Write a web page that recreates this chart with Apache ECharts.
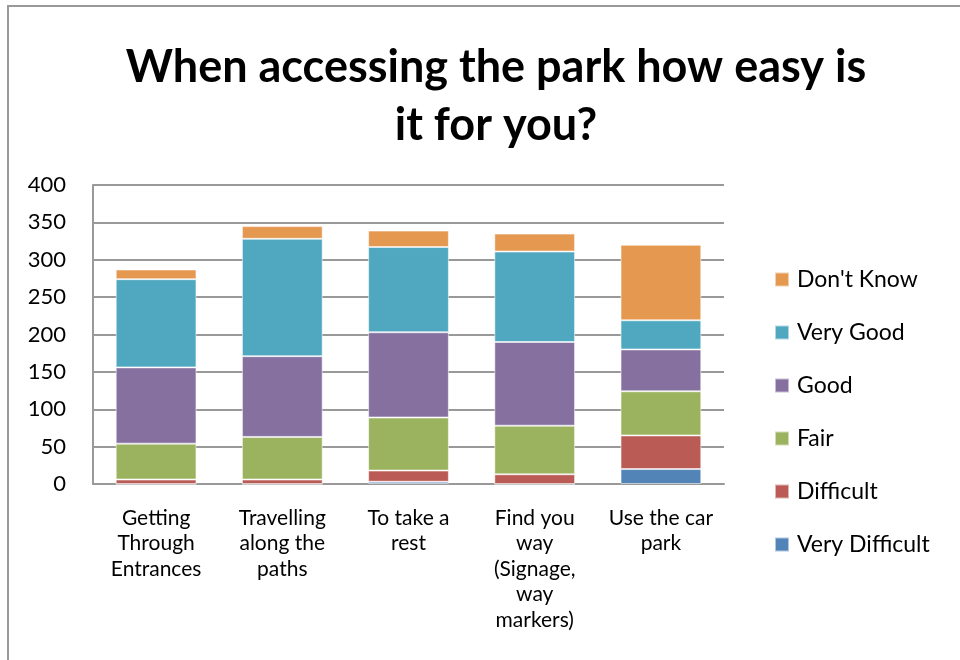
<!DOCTYPE html>
<html>
<head>
<meta charset="utf-8">
<script src="https://cdn.jsdelivr.net/npm/echarts@6/dist/echarts.min.js"></script>
<style>
  html, body { margin: 0; padding: 0; background: #fff; }
  #chart { width: 960px; height: 660px; }
</style>
</head>
<body>
<div id="chart"></div>
<script>
// Survey: ease of access to the park, by activity
const categories = [
  'Getting\nThrough\nEntrances',
  'Travelling\nalong the\npaths',
  'To take a\nrest',
  'Find you\nway\n(Signage,\nway\nmarkers)',
  'Use the car\npark'
];
const veryDifficult = [0, 0, 3, 0, 20];
const difficult     = [6, 6, 15, 13, 45];
const fair          = [48, 57, 71, 65, 59];
const good          = [102, 108, 114, 112, 56];
const veryGood      = [118, 157, 114, 121, 39];
const dontKnow      = [13, 17, 22, 24, 101];
const yTicks = { min: 0, max: 400, interval: 50 };

const FONT = 'Lato';

const seriesDefs = [
  { name: 'Very Difficult', data: veryDifficult, color: '#5384B8' },
  { name: 'Difficult',      data: difficult,     color: '#BA5B55' },
  { name: 'Fair',           data: fair,          color: '#9BB25E' },
  { name: 'Good',           data: good,          color: '#8570A0' },
  { name: 'Very Good',      data: veryGood,      color: '#4FA8BF' },
  { name: "Don't Know",     data: dontKnow,      color: '#E59850' }
];

const chart = echarts.init(document.getElementById('chart'), null, { renderer: 'canvas' });
chart.setOption({
  animation: false,
  backgroundColor: '#fff',
  textStyle: { fontFamily: FONT },
  graphic: [{
    type: 'rect',
    shape: { x: 8, y: 6, width: 1000, height: 1000 },
    style: { fill: 'none', stroke: '#999', lineWidth: 2 },
    silent: true
  }],
  title: {
    text: 'When accessing the park how easy is\nit for you?',
    left: 491,
    textAlign: 'center',
    top: 33,
    textStyle: {
      fontFamily: FONT, fontWeight: 'bold', fontSize: 45, color: '#000',
      lineHeight: 58
    }
  },
  legend: {
    orient: 'vertical',
    left: 769,
    top: 263,
    itemWidth: 14,
    itemHeight: 14,
    itemGap: 30,
    icon: 'rect',
    data: seriesDefs.map(s => s.name).reverse(),
    textStyle: { fontFamily: FONT, fontSize: 23, color: '#000', padding: [0, 0, 0, 3] }
  },
  grid: { left: 93, right: 236, top: 185, bottom: 176, containLabel: false },
  xAxis: {
    type: 'category',
    data: categories,
    axisLine: { lineStyle: { color: '#999', width: 2 } },
    axisTick: { show: false },
    axisLabel: {
      fontFamily: FONT, fontSize: 21, color: '#000', lineHeight: 25.5,
      margin: 21, interval: 0, verticalAlign: 'top'
    }
  },
  yAxis: {
    type: 'value',
    min: yTicks.min, max: yTicks.max, interval: yTicks.interval,
    axisLine: { show: true, lineStyle: { color: '#999', width: 2 } },
    axisTick: { show: false },
    splitLine: { lineStyle: { color: '#999', width: 2 } },
    axisLabel: { fontFamily: FONT, fontSize: 22, color: '#000', margin: 27 }
  },
  series: seriesDefs.map(s => ({
    name: s.name,
    type: 'bar',
    stack: 'total',
    data: s.data,
    barCategoryGap: '36%',
    itemStyle: { color: s.color, borderColor: 'rgba(255,255,255,0.55)', borderWidth: 1 },
    emphasis: { disabled: true }
  }))
});
</script>
</body>
</html>
